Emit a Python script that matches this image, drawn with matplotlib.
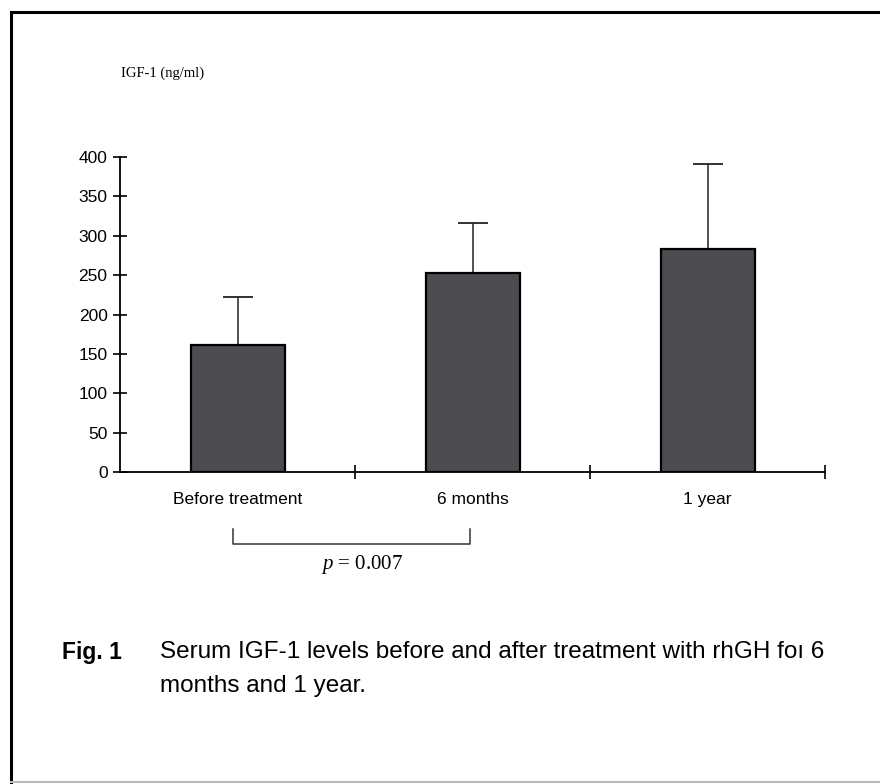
import matplotlib as mpl
import matplotlib.pyplot as plt
from matplotlib.lines import Line2D

params = {
    "font.family": ["Liberation Sans", "DejaVu Sans"],
    "font.size": 10,
    "axes.linewidth": 1.3,
    "mathtext.fontset": "custom",
    "mathtext.it": "Liberation Serif:italic",
    "mathtext.rm": "Liberation Serif",
}
mpl.rcParams.update(params)

categories = ["Before treatment", "6 months", "1 year"]
igf_mean = [161, 253, 283]
igf_sd = [61, 63, 108]
yticks = [0, 50, 100, 150, 200, 250, 300, 350, 400]

fig = plt.figure(figsize=(8.8, 7.84), dpi=100)
ax = fig.add_axes([0.1364, 0.398, 0.8011, 0.4017])

x = list(range(len(categories)))
ax.bar(x, igf_mean, width=0.4, color="#4b4b50", edgecolor="black", linewidth=1.6, zorder=3)
ax.errorbar(x, igf_mean, yerr=[[0] * len(x), igf_sd], fmt="none", ecolor="#222222",
            elinewidth=1.1, capsize=11, capthick=1.3, zorder=2)

ax.set_xlim(-0.5, 2.5)
ax.set_ylim(0, 400)
ax.set_yticks(yticks)
ax.set_xticks([0.5, 1.5, 2.5])
ax.set_xticklabels([])
ax.tick_params(axis="both", direction="inout", length=10, width=1.2, labelsize=12.5)
ax.tick_params(axis="y", pad=4)
for s in ["top", "right"]:
    ax.spines[s].set_visible(False)

for xi, name in zip(x, categories):
    ax.text(xi, -26, name, ha="center", va="top", fontsize=12.5)

# bracket between first two groups
ax.plot([-0.02, -0.02, 0.99, 0.99], [-72, -92, -92, -72], color="#333333", lw=1.1, clip_on=False)
ax.text(0.53, -103, r"$p$" + " = 0.007", ha="center", va="top", fontsize=15,
        family=["Liberation Serif", "DejaVu Serif"])

fig.text(0.137, 0.907, "IGF-1 (ng/ml)", fontsize=10.5, family=["Liberation Serif", "DejaVu Serif"],
         va="center")

cap_font = ["Liberation Sans", "DejaVu Sans"]
fig.text(0.07, 0.168, "Fig. 1", fontsize=16.5, fontweight="bold", family=cap_font, va="center")
fig.text(0.182, 0.168, "Serum IGF-1 levels before and after treatment with rhGH foı 6",
         fontsize=17.5, family=cap_font, va="center")
fig.text(0.182, 0.125, "months and 1 year.", fontsize=17.5, family=cap_font, va="center")

# outer frame of the figure panel
fig.add_artist(Line2D([0.012, 1.0], [0.985, 0.985], color="black", lw=2.2))
fig.add_artist(Line2D([0.013, 0.013], [0.0, 0.985], color="black", lw=2.2))
fig.add_artist(Line2D([0.012, 1.0], [0.003, 0.003], color="#bbbbbb", lw=1.5))

fig.savefig("out.png", dpi=100)
